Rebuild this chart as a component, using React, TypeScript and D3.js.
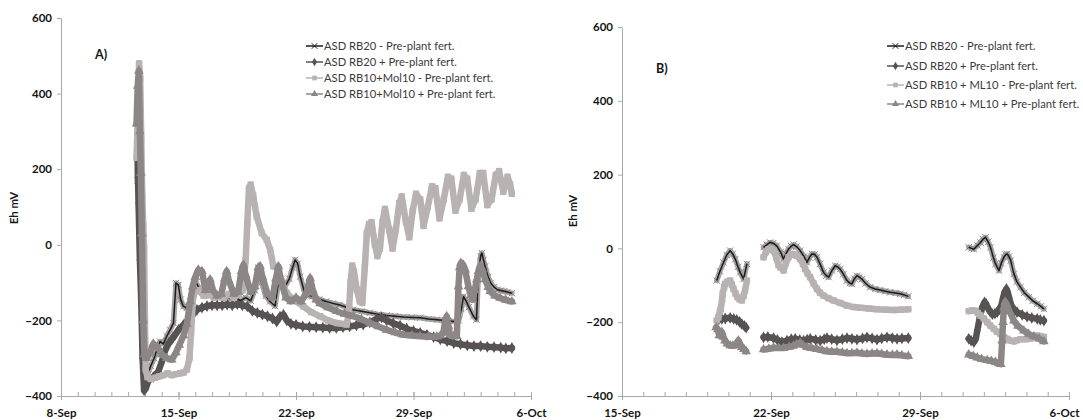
import React, { useEffect, useRef } from 'react';
import * as d3 from 'd3';

type Pt = [number, number | null];

// x values are days counted from 1 Sep (so 6-Oct = 36), y values are Eh in mV
// ---- panel A ----
const rb20MinusA: Pt[] = [
  [12.55, 170], [12.62, 300], [12.68, 380], [12.76, 150], [12.84, -150], [12.92, -320], [13.0, -370],
  [13.15, -345], [13.35, -320], [13.55, -300], [13.7, -280], [13.9, -256], [14.1, -262], [14.3, -242],
  [14.5, -225], [14.7, -207], [14.85, -101], [14.99, -106], [15.13, -145], [15.29, -163], [15.49, -167],
  [15.69, -150], [15.88, -110], [16.05, -100], [16.3, -120], [16.6, -135], [16.9, -128], [17.2, -138],
  [17.5, -140], [17.8, -135], [18.1, -142], [18.4, -140], [18.7, -148], [19.0, -140], [19.3, -148],
  [19.55, -120], [19.75, -60], [19.95, -100], [20.2, -135], [20.45, -150], [20.75, -162], [20.95, -100],
  [21.15, -90], [21.35, -110], [21.6, -90], [21.8, -60], [21.95, -40], [22.1, -50], [22.25, -84],
  [22.5, -125], [22.75, -135], [23.0, -137], [23.4, -144], [23.8, -150], [24.2, -155], [24.6, -159],
  [25.0, -165], [25.4, -172], [25.9, -176], [26.4, -180], [26.9, -184], [27.4, -187], [27.9, -189],
  [28.4, -191], [28.9, -192], [29.4, -193], [29.9, -196], [30.4, -198], [30.9, -200], [31.4, -203],
  [31.7, -200], [31.85, -170], [31.98, -137], [32.15, -150], [32.3, -165], [32.57, -189], [32.75, -198],
  [32.87, -75], [33.0, -30], [33.07, -22], [33.17, -40], [33.27, -57], [33.45, -85], [33.6, -101],
  [33.8, -112], [34.0, -119], [34.2, -121], [34.4, -123], [34.6, -125], [34.86, -128],
];
const rb20PlusA: Pt[] = [
  [12.55, 250], [12.62, 110], [12.7, -40], [12.78, -150], [12.86, -300], [12.95, -385], [13.05, -380],
  [13.2, -360], [13.5, -350], [13.8, -335], [14.0, -310], [14.2, -280], [14.4, -262], [14.6, -250],
  [14.8, -238], [15.0, -225], [15.3, -212], [15.6, -198], [15.9, -182], [16.1, -172], [16.4, -166],
  [16.7, -162], [17.0, -160], [17.3, -160], [17.6, -160], [17.9, -158], [18.2, -160], [18.5, -157],
  [18.8, -160], [19.1, -163], [19.4, -175], [19.7, -180], [20.0, -185], [20.3, -189], [20.6, -195],
  [20.85, -203], [21.05, -190], [21.25, -185], [21.45, -200], [21.7, -209], [22.0, -212], [22.4, -216],
  [22.8, -217], [23.2, -218], [23.6, -219], [24.0, -220], [24.4, -220], [24.8, -218], [25.2, -216],
  [25.6, -213], [26.0, -211], [26.4, -205], [26.8, -196], [27.1, -192], [27.4, -200], [27.8, -208],
  [28.2, -214], [28.6, -222], [29.0, -228], [29.4, -233], [29.8, -238], [30.2, -244], [30.6, -250],
  [31.0, -255], [31.4, -260], [31.8, -263], [32.2, -266], [32.6, -268], [33.0, -268], [33.4, -270],
  [33.8, -271], [34.2, -272], [34.5, -274], [34.86, -273],
];
const molMinusA: Pt[] = [
  [12.5, 230], [12.55, 300], [12.6, 385], [12.65, 480], [12.72, 440], [12.78, 280], [12.84, 130],
  [12.9, 50], [12.95, -10], [13.0, -200], [13.05, -330], [13.15, -350], [13.35, -355], [13.6, -352],
  [13.85, -348], [14.1, -345], [14.35, -340], [14.6, -345], [14.85, -342], [15.1, -340], [15.3, -338],
  [15.5, -330], [15.65, -300], [15.75, -233], [15.85, -150], [15.95, -125], [16.2, -120], [16.5, -135],
  [16.8, -130], [17.1, -140], [17.4, -135], [17.7, -140], [18.0, -130], [18.3, -140], [18.6, -130],
  [18.85, -120], [19.0, -40], [19.1, 60], [19.2, 150], [19.3, 159], [19.45, 130], [19.66, 75],
  [19.96, 31], [20.26, 13], [20.46, -13], [20.65, -57], [20.85, -60], [21.05, -92], [21.45, -128],
  [21.84, -145], [22.44, -163], [22.9, -178], [23.43, -189], [23.9, -200], [24.43, -207], [25.02, -211],
  [25.15, -180], [25.25, -100], [25.35, -55], [25.45, -70], [25.62, -119], [25.8, -150], [25.95, -154],
  [26.1, -60], [26.22, 31], [26.35, 55], [26.5, 60], [26.7, 0], [26.85, -30], [27.0, -10], [27.15, 60],
  [27.3, 95], [27.55, 40], [27.75, -10], [27.95, 40], [28.15, 110], [28.3, 128], [28.55, 60],
  [28.75, 20], [28.95, 90], [29.15, 135], [29.4, 120], [29.6, 50], [29.85, 100], [30.1, 155],
  [30.3, 150], [30.55, 70], [30.8, 120], [31.05, 180], [31.25, 175], [31.5, 90], [31.75, 120],
  [32.0, 185], [32.2, 175], [32.45, 95], [32.7, 120], [32.95, 190], [33.15, 190], [33.4, 105],
  [33.65, 120], [33.9, 185], [34.1, 195], [34.35, 140], [34.6, 180], [34.75, 160], [34.86, 135],
];
const molPlusA: Pt[] = [
  [12.5, 320], [12.57, 420], [12.64, 460], [12.7, 300], [12.76, 190], [12.82, 30], [12.9, -200],
  [12.97, -290], [13.1, -300], [13.3, -286], [13.5, -262], [13.75, -270], [14.0, -290], [14.3, -300],
  [14.6, -304], [14.85, -285], [15.05, -265], [15.3, -240], [15.5, -210], [15.7, -150], [15.85, -110],
  [16.0, -85], [16.18, -66], [16.4, -70], [16.6, -120], [16.75, -110], [16.88, -92], [17.05, -120],
  [17.3, -135], [17.55, -130], [17.75, -90], [17.87, -70], [18.0, -95], [18.3, -130], [18.55, -125],
  [18.75, -70], [18.87, -53], [19.0, -80], [19.3, -125], [19.55, -110], [19.75, -60], [19.86, -57],
  [20.0, -85], [20.3, -130], [20.6, -140], [20.8, -90], [20.95, -57], [21.1, -95], [21.4, -140],
  [21.7, -150], [22.0, -140], [22.3, -150], [22.6, -130], [22.84, -88], [23.0, -120], [23.2, -145],
  [23.43, -155], [23.9, -166], [24.43, -176], [24.9, -183], [25.42, -189], [25.9, -197], [26.41, -207],
  [26.9, -216], [27.4, -225], [27.9, -232], [28.4, -238], [28.9, -240], [29.39, -242], [29.9, -243],
  [30.39, -243], [30.6, -240], [30.78, -233], [30.9, -200], [30.98, -189], [31.08, -215], [31.18, -238],
  [31.4, -242], [31.58, -242], [31.68, -110], [31.75, -60], [31.82, -48], [31.95, -52], [32.08, -66],
  [32.27, -110], [32.42, -135], [32.53, -145], [32.65, -120], [32.77, -92], [32.87, -70], [32.97, -57],
  [33.1, -65], [33.27, -92], [33.45, -112], [33.57, -123], [33.85, -135], [34.16, -141], [34.5, -146],
  [34.86, -150],
];

// ---- panel B (null = gap in the record) ----
const rb20MinusB: Pt[] = [
  [19.45, -87], [19.6, -62], [19.77, -38], [19.92, -18], [20.08, -6], [20.2, -15], [20.32, -29],
  [20.45, -50], [20.55, -65], [20.71, -83], [20.87, -42], [21.2, null],
  [21.65, 3], [21.8, 10], [21.96, 16], [22.1, 14], [22.27, 7], [22.45, -10], [22.59, -29], [22.7, -15],
  [22.82, -2], [22.95, 6], [23.06, 10], [23.2, 5], [23.37, -6], [23.55, -22], [23.69, -38], [23.8, -25],
  [23.92, -15], [24.05, -16], [24.16, -24], [24.3, -42], [24.47, -65], [24.6, -74], [24.71, -78],
  [24.86, -60], [25.02, -47], [25.13, -50], [25.25, -56], [25.4, -70], [25.57, -87], [25.7, -94],
  [25.8, -96], [25.92, -82], [26.04, -74], [26.15, -78], [26.27, -83], [26.45, -95], [26.66, -105],
  [26.9, -110], [27.13, -113], [27.37, -116], [27.6, -119], [27.85, -121], [28.08, -123], [28.25, -126],
  [28.45, -130], [30.0, null],
  [31.29, 3], [31.42, 0], [31.53, -2], [31.7, 8], [31.84, 16], [31.96, 25], [32.08, 30], [32.2, 18],
  [32.31, 3], [32.45, -25], [32.55, -42], [32.71, -60], [32.82, -40], [32.94, -24], [33.02, -17],
  [33.1, -15], [33.18, -22], [33.26, -33], [33.41, -69], [33.55, -90], [33.72, -105], [33.9, -120],
  [34.12, -132], [34.3, -142], [34.51, -150], [34.68, -157], [34.82, -164],
];
const rb20PlusB: Pt[] = [
  [19.55, -192], [19.69, -191], [19.85, -190], [20.08, -188], [20.25, -191], [20.39, -194], [20.52, -199],
  [20.63, -205], [20.75, -210], [20.83, -215], [21.2, null],
  [21.65, -241], [21.85, -240], [22.12, -243], [22.3, -248], [22.51, -254], [22.75, -250], [22.95, -246],
  [23.14, -245], [23.35, -248], [23.53, -250], [23.7, -247], [23.84, -245], [24.1, -248], [24.31, -250],
  [24.5, -246], [24.63, -243], [24.85, -246], [25.1, -249], [25.35, -246], [25.57, -243], [25.8, -245],
  [26.04, -247], [26.3, -244], [26.51, -241], [26.75, -244], [26.98, -247], [27.2, -244], [27.45, -241],
  [27.7, -243], [27.92, -245], [28.15, -244], [28.45, -243], [30.0, null],
  [31.29, -245], [31.4, -250], [31.53, -254], [31.62, -245], [31.69, -223], [31.81, -187], [31.92, -160],
  [32.03, -146], [32.1, -150], [32.18, -161], [32.3, -172], [32.4, -178], [32.52, -177], [32.63, -173],
  [32.72, -165], [32.82, -155], [32.9, -135], [32.97, -119], [33.06, -110], [33.12, -118], [33.18, -132],
  [33.25, -148], [33.33, -160], [33.45, -168], [33.56, -173], [33.8, -180], [34.03, -185], [34.25, -188],
  [34.51, -191], [34.65, -194], [34.82, -196],
];
const mlMinusB: Pt[] = [
  [19.45, -195], [19.53, -187], [19.6, -170], [19.64, -164], [19.7, -140], [19.73, -123], [19.8, -105],
  [19.84, -96], [19.95, -90], [20.08, -87], [20.16, -98], [20.24, -110], [20.33, -122], [20.42, -132],
  [20.52, -138], [20.63, -141], [20.72, -128], [20.78, -114], [20.87, -87], [21.2, null],
  [21.65, -24], [21.76, -10], [21.88, -2], [22.0, -3], [22.12, -6], [22.25, -25], [22.35, -45],
  [22.43, -51], [22.59, -60], [22.7, -40], [22.82, -24], [22.95, -17], [23.06, -15], [23.2, -20],
  [23.37, -29], [23.5, -42], [23.61, -56], [23.72, -68], [23.84, -78], [24.0, -95], [24.16, -110],
  [24.3, -120], [24.47, -128], [24.7, -135], [24.94, -141], [25.25, -148], [25.57, -155], [25.9, -159],
  [26.2, -161], [26.6, -163], [26.98, -165], [27.4, -166], [27.76, -167], [28.1, -166], [28.45, -165],
  [30.0, null],
  [31.29, -170], [31.45, -168], [31.6, -169], [31.72, -175], [31.84, -182], [32.0, -190], [32.16, -200],
  [32.3, -209], [32.47, -218], [32.62, -226], [32.78, -232], [32.95, -240], [33.1, -245], [33.25, -250],
  [33.41, -252], [33.55, -249], [33.72, -246], [33.95, -246], [34.19, -245], [34.35, -240], [34.51, -236],
  [34.65, -238], [34.82, -240],
];
const mlPlusB: Pt[] = [
  [19.42, -214], [19.5, -220], [19.57, -236], [19.63, -232], [19.69, -227], [19.76, -240], [19.84, -250],
  [19.95, -258], [20.08, -263], [20.2, -264], [20.32, -263], [20.4, -255], [20.47, -250], [20.55, -260],
  [20.63, -268], [20.73, -273], [20.83, -279], [21.2, null],
  [21.65, -274], [21.9, -272], [22.12, -269], [22.35, -270], [22.59, -270], [22.85, -267], [23.06, -264],
  [23.2, -260], [23.37, -256], [23.5, -262], [23.69, -268], [23.9, -270], [24.16, -273], [24.4, -276],
  [24.63, -279], [24.85, -280], [25.1, -280], [25.35, -282], [25.57, -284], [25.8, -284], [26.04, -283],
  [26.27, -285], [26.51, -286], [26.75, -285], [26.98, -284], [27.2, -286], [27.45, -288], [27.7, -289],
  [27.92, -288], [28.15, -290], [28.45, -292], [30.0, null],
  [31.29, -288], [31.5, -292], [31.69, -296], [31.9, -300], [32.16, -303], [32.35, -305], [32.55, -308],
  [32.7, -312], [32.8, -314], [32.86, -250], [32.9, -200], [32.94, -160], [33.0, -145], [33.06, -150],
  [33.2, -170], [33.41, -196], [33.6, -210], [33.88, -223], [34.1, -232], [34.35, -239], [34.6, -245],
  [34.82, -252],
];

const namesA = [
  'ASD RB20 - Pre-plant fert.',
  'ASD RB20 + Pre-plant fert.',
  'ASD RB10+Mol10 - Pre-plant fert.',
  'ASD RB10+Mol10 + Pre-plant fert.',
];
const namesB = [
  'ASD RB20 - Pre-plant fert.',
  'ASD RB20 + Pre-plant fert.',
  'ASD RB10 + ML10 - Pre-plant fert.',
  'ASD RB10 + ML10 + Pre-plant fert.',
];
const xDaysA = [8, 15, 22, 29, 36];
const xLabelsA = ['8-Sep', '15-Sep', '22-Sep', '29-Sep', '6-Oct'];
const xDaysB = [15, 22, 29, 36];
const xLabelsB = ['15-Sep', '22-Sep', '29-Sep', '6-Oct'];
const yTicks = [-400, -200, 0, 200, 400, 600];

const looks = [
  { line: '#1c1c1c', band: '#a9a5a5', mark: '#8a8686', symbol: d3.symbolX, stroked: true },
  { line: '#575353', band: '#575353', mark: '#575353', symbol: d3.symbolDiamond, stroked: false },
  { line: '#b8b3b2', band: '#b8b3b2', mark: '#b8b3b2', symbol: d3.symbolSquare, stroked: false },
  { line: '#8c8786', band: '#8c8786', mark: '#8c8786', symbol: d3.symbolTriangle, stroked: false },
];

const FONT = 'Lato, "Open Sans", sans-serif';

function drawPanel(svg: any, cfg: any) {
  const x = d3.scaleLinear().domain(cfg.xDomain).range(cfg.xRange);
  const y = d3.scaleLinear().domain([-400, 600]).range(cfg.yRange);
  const g = svg.append('g');
  const x0 = cfg.xRange[0];
  const yBase = cfg.yRange[0];

  // y axis
  const yAxis = d3.axisLeft(y).tickValues(yTicks).tickSize(4).tickSizeOuter(0).tickPadding(5);
  const ya = g.append('g').attr('transform', 'translate(' + x0 + ',0)').call(yAxis);
  ya.select('.domain').attr('stroke', '#a8a8a8');
  ya.selectAll('.tick line').attr('stroke', '#a8a8a8');
  ya.selectAll('text').attr('font-family', FONT).attr('font-weight', 700)
    .attr('font-size', 11.5).attr('fill', '#151515');

  // x axis: daily minor ticks + weekly labels
  const days = d3.range(cfg.xDomain[0], cfg.xDomain[1] + 1);
  const minor = d3.axisBottom(x).tickValues(days).tickSize(-4).tickSizeOuter(0).tickFormat(() => '');
  const xm = g.append('g').attr('transform', 'translate(0,' + yBase + ')').call(minor);
  xm.select('.domain').attr('stroke', '#a8a8a8');
  xm.selectAll('.tick line').attr('stroke', '#a8a8a8');

  const major = d3.axisBottom(x).tickValues(cfg.xDays).tickSize(4).tickSizeOuter(0).tickPadding(9)
    .tickFormat((d: any, i: number) => cfg.xLabels[i]);
  const xa = g.append('g').attr('transform', 'translate(0,' + yBase + ')').call(major);
  xa.select('.domain').remove();
  xa.selectAll('.tick line').attr('stroke', '#a8a8a8').attr('y1', -4);
  xa.selectAll('text').attr('font-family', FONT).attr('font-weight', 700)
    .attr('font-size', 11.5).attr('fill', '#151515');
  // keep the last date label inside the picture
  if (cfg.lastLabelShift) {
    xa.selectAll('.tick text').filter((d: any, i: number) => i === cfg.xDays.length - 1)
      .attr('x', cfg.lastLabelShift);
  }

  // axis title + panel letter
  g.append('text')
    .attr('transform', 'translate(' + cfg.titleX + ',' + cfg.titleY + ') rotate(-90)')
    .attr('text-anchor', 'middle')
    .attr('font-family', FONT).attr('font-weight', 700).attr('font-size', 11.5)
    .attr('fill', '#151515')
    .text('Eh mV');
  g.append('text')
    .attr('x', cfg.letterPos[0]).attr('y', cfg.letterPos[1])
    .attr('font-family', FONT).attr('font-weight', 700).attr('font-size', 12.5)
    .attr('fill', '#151515')
    .text(cfg.letter);

  const line = d3.line<Pt>()
    .defined(d => d[1] !== null)
    .x(d => x(d[0]))
    .y(d => y(d[1] as number));

  cfg.series.forEach((data: Pt[], i: number) => {
    const lk = looks[i];
    const s = g.append('g');
    s.append('path').datum(data)
      .attr('fill', 'none').attr('stroke', lk.band)
      .attr('stroke-width', i === 0 ? 5.5 : 6.5)
      .attr('stroke-linejoin', 'round').attr('stroke-linecap', 'round')
      .attr('d', line);
    const sym = d3.symbol().type(lk.symbol).size(i === 0 ? 28 : 40);
    s.selectAll('path.m').data(data.filter(d => d[1] !== null)).enter()
      .append('path').attr('class', 'm')
      .attr('transform', (d: Pt) => 'translate(' + x(d[0]) + ',' + y(d[1] as number) + ')')
      .attr('d', sym)
      .attr('fill', lk.stroked ? 'none' : lk.mark)
      .attr('stroke', lk.stroked ? lk.mark : 'none')
      .attr('stroke-width', 1);
    if (i === 0) {
      s.append('path').datum(data)
        .attr('fill', 'none').attr('stroke', lk.line).attr('stroke-width', 1.5)
        .attr('stroke-linejoin', 'round')
        .attr('d', line);
    }
  });

  // legend
  const lg = g.append('g');
  cfg.names.forEach((name: string, i: number) => {
    const lk = looks[i];
    const ly = cfg.legendY[i];
    const lx = cfg.legendX;
    lg.append('line').attr('x1', lx).attr('x2', lx + 17).attr('y1', ly).attr('y2', ly)
      .attr('stroke', lk.line).attr('stroke-width', 1.5);
    lg.append('path')
      .attr('transform', 'translate(' + (lx + 8.5) + ',' + ly + ')')
      .attr('d', d3.symbol().type(lk.symbol).size(22)())
      .attr('fill', lk.stroked ? 'none' : lk.mark)
      .attr('stroke', lk.stroked ? lk.line : 'none');
    lg.append('text').attr('x', lx + 18).attr('y', ly).attr('dy', '0.35em')
      .attr('font-family', FONT).attr('font-size', 11.2).attr('fill', '#3a3a3a')
      .text(name);
  });
}

export default function App() {
  const ref = useRef<SVGSVGElement>(null);

  useEffect(() => {
    const svg = d3.select(ref.current);
    svg.selectAll('*').remove();

    drawPanel(svg, {
      xDomain: [8, 36], xRange: [61, 531], yRange: [396, 18],
      xDays: xDaysA, xLabels: xLabelsA,
      series: [rb20MinusA, rb20PlusA, molMinusA, molPlusA],
      names: namesA, legendX: 306, legendY: [46, 62, 78, 94],
      titleX: 18, titleY: 208, letter: 'A)', letterPos: [95, 59],
    });
    drawPanel(svg, {
      xDomain: [15, 36], xRange: [622, 1069], yRange: [396, 27],
      xDays: xDaysB, xLabels: xLabelsB,
      series: [rb20MinusB, rb20PlusB, mlMinusB, mlPlusB],
      names: namesB, legendX: 887, legendY: [46, 66, 85, 104],
      titleX: 577, titleY: 211, letter: 'B)', letterPos: [656, 73],
      lastLabelShift: -5,
    });
  }, []);

  return (
    <svg ref={ref} width={1083} height={420}
      style={{ position: 'absolute', left: 0, top: 0, background: '#fff' }} />
  );
}
